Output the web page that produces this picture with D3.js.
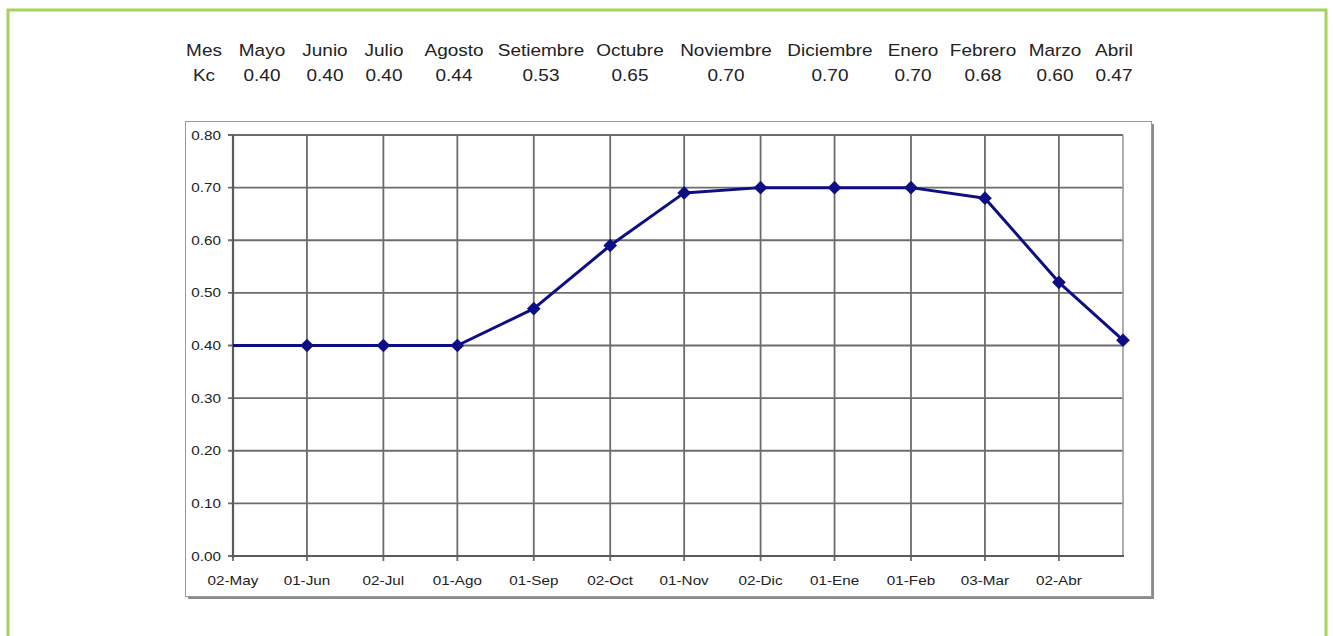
<!DOCTYPE html>
<html><head><meta charset="utf-8">
<script src="https://cdn.jsdelivr.net/npm/d3@7"></script>
<style>html,body{margin:0;padding:0;background:#fff;}svg{display:block;font-family:Arial,"Liberation Sans",sans-serif;}</style>
</head><body>
<svg id="c" width="1333" height="636"></svg>
<script>
// ---- data ----
const headerMonths = ["Mayo","Junio","Julio","Agosto","Setiembre","Octubre","Noviembre","Diciembre","Enero","Febrero","Marzo","Abril"];
const headerKc = ["0.40","0.40","0.40","0.44","0.53","0.65","0.70","0.70","0.70","0.68","0.60","0.47"];
const headerCenters = [262,325,384,454,541,630,726,830,913,983,1055,1114]; // layout of table columns
const pointDates = ["2006-05-02","2006-06-01","2006-07-02","2006-08-01","2006-09-01","2006-10-02","2006-11-01","2006-12-02","2007-01-01","2007-02-01","2007-03-03","2007-04-02","2007-04-28"];
const kcValues = [0.40,0.40,0.40,0.40,0.47,0.59,0.69,0.70,0.70,0.70,0.68,0.52,0.41];
const tickDates = ["2006-05-02","2006-06-01","2006-07-02","2006-08-01","2006-09-01","2006-10-02","2006-11-01","2006-12-02","2007-01-01","2007-02-01","2007-03-03","2007-04-02"];
const tickLabels = ["02-May","01-Jun","02-Jul","01-Ago","01-Sep","02-Oct","01-Nov","02-Dic","01-Ene","01-Feb","03-Mar","02-Abr"];
const yTicks = [0,0.1,0.2,0.3,0.4,0.5,0.6,0.7,0.8];

const parse = d3.utcParse("%Y-%m-%d");
const svg = d3.select("#c");

// green frame
svg.append("rect").attr("x",8).attr("y",10).attr("width",1318).attr("height",660)
  .attr("fill","none").attr("stroke","#a8d25e").attr("stroke-width",3);

// header table
function stext(g, x, y, txt, size, sx, fill){
  g.append("text").attr("transform",`translate(${x},${y}) scale(${sx},1)`)
   .attr("text-anchor","middle").attr("font-size",size).attr("fill",fill).text(txt);
}
const hg = svg.append("g");
stext(hg, 204, 56, "Mes", 16.5, 1.15, "#222");
stext(hg, 204, 81, "Kc", 16.5, 1.15, "#222");
headerMonths.forEach((m,i)=>{
  stext(hg, headerCenters[i], 56, m, 16.5, 1.15, "#222");
  stext(hg, headerCenters[i], 81, headerKc[i], 16.5, 1.15, "#222");
});

// outer chart box with shadow
svg.append("rect").attr("x",188).attr("y",124).attr("width",966).attr("height",475).attr("fill","#8a8a8a");
svg.append("rect").attr("x",185.5).attr("y",121.5).attr("width",966).attr("height",475)
  .attr("fill","#fff").attr("stroke","#9a9a9a").attr("stroke-width",1);

// scales
const x = d3.scaleUtc().domain([parse("2006-05-02"), parse("2007-04-28")]).range([233,1123]);
const y = d3.scaleLinear().domain([0,0.8]).range([556,135]);

// grid lines
const grid = svg.append("g");
grid.selectAll("line.h").data(yTicks).join("line")
  .attr("x1",228).attr("x2",1123).attr("y1",d=>y(d)).attr("y2",d=>y(d))
  .attr("stroke","#6c6c6c").attr("stroke-width",1.8);
grid.selectAll("line.v").data(tickDates).join("line")
  .attr("x1",d=>x(parse(d))).attr("x2",d=>x(parse(d))).attr("y1",135).attr("y2",561)
  .attr("stroke","#6c6c6c").attr("stroke-width",1.8);
// right border
grid.append("line").attr("x1",1123).attr("x2",1123).attr("y1",135).attr("y2",556)
  .attr("stroke","#9a9a9a").attr("stroke-width",1.6);
// axes lines
grid.append("line").attr("x1",233).attr("x2",233).attr("y1",135).attr("y2",558).attr("stroke","#5a5a5a").attr("stroke-width",2.2);
grid.append("line").attr("x1",232).attr("x2",1124).attr("y1",556).attr("y2",556).attr("stroke","#5a5a5a").attr("stroke-width",2.2);

// y labels
yTicks.forEach(v=>{
  svg.append("text").attr("transform",`translate(221,${y(v)+4.5}) scale(1.22,1)`)
    .attr("text-anchor","end").attr("font-size",12.5).attr("fill","#222").text(v.toFixed(2));
});
// x labels
tickDates.forEach((d,i)=>{
  svg.append("text").attr("transform",`translate(${x(parse(d))},${585}) scale(1.22,1)`)
    .attr("text-anchor","middle").attr("font-size",12.5).attr("fill","#222").text(tickLabels[i]);
});

// series
const pts = pointDates.map((d,i)=>({x:x(parse(d)), y:y(kcValues[i])}));
const line = d3.line().x(d=>d.x).y(d=>d.y).curve(d3.curveLinear);
svg.append("path").attr("d",line(pts)).attr("fill","none").attr("stroke","#0d0d85").attr("stroke-width",3).attr("stroke-linejoin","round");
svg.selectAll("path.m").data(pts.slice(1)).join("path")
  .attr("transform",d=>`translate(${d.x},${d.y})`)
  .attr("d",d3.symbol(d3.symbolDiamond2,120)())
  .attr("fill","#0d0d85");
</script>
</body></html>
